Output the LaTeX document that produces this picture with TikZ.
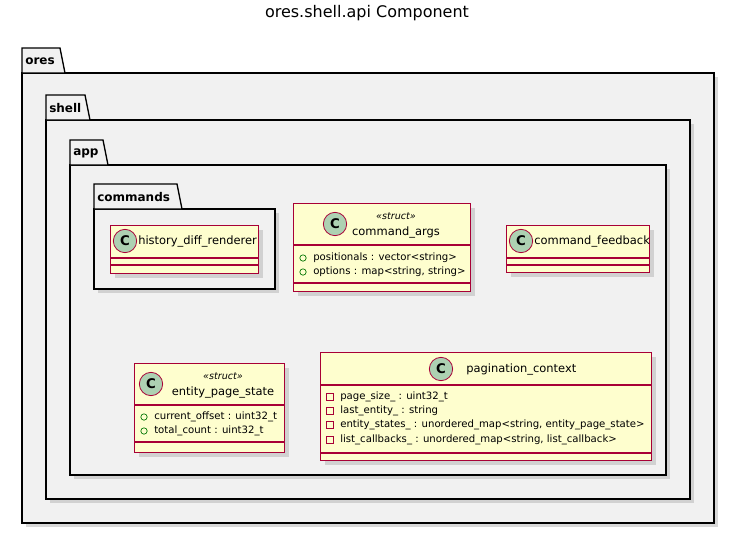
\documentclass[tikz,border=0pt]{standalone}
\usepackage{fontspec}
\setmainfont{DejaVu Sans}
\usetikzlibrary{shadows}
\definecolor{pkgfill}{HTML}{F1F1F1}
\definecolor{clsfill}{HTML}{FEFECE}
\definecolor{clsline}{HTML}{A80036}
\definecolor{cfill}{HTML}{ADD1B2}
\tikzset{
  pkg/.style={draw=black, fill=pkgfill, line width=1pt, drop shadow={shadow xshift=3pt,shadow yshift=-3pt,fill=gray!60}},
  pkgtab/.style={draw=black, fill=pkgfill, line width=1pt},
  cls/.style={draw=clsline, fill=clsfill, line width=0.9pt, inner sep=0pt, anchor=north west, drop shadow={shadow xshift=3pt,shadow yshift=-3pt,fill=gray!60}},
  sep/.style={draw=clsline, line width=0.9pt},
  cmark/.style={circle, draw=clsline, fill=cfill, line width=0.6pt, minimum size=17.5pt, inner sep=0pt, font=\bfseries\fontsize{10}{10}\selectfont},
  cname/.style={font=\fontsize{8.6}{10}\selectfont, inner sep=0pt},
  stereo/.style={font=\itshape\fontsize{7.2}{8}\selectfont, inner sep=0pt},
  mem/.style={font=\fontsize{7.6}{9}\selectfont, inner sep=0pt, anchor=west},
  pub/.style={circle, draw=green!45!black, line width=0.5pt, minimum size=4.8pt, inner sep=0pt},
  priv/.style={rectangle, draw=clsline, line width=0.5pt, minimum size=4.8pt, inner sep=0pt},
  plabel/.style={font=\bfseries\fontsize{9}{10}\selectfont, anchor=west, inner sep=0pt}
}
\begin{document}
\begin{tikzpicture}[x=0.75pt,y=-0.75pt]
\useasboundingbox (0,0) rectangle (735,535);
\fill[white] (0,0) rectangle (735,535);
\node[font=\fontsize{12}{14}\selectfont] (title) at (367,13) {ores.shell.api Component};
% packages
\newcommand\pkgdraw[7]{% name x1 y1 tabw x2 y2 label
  \draw[pkg] (#2,#3+25) rectangle (#5,#6);
  \draw[pkgtab] (#2,#3+25) -- (#2,#3) -- (#2+#4,#3) -- (#2+#4+5,#3+25) -- cycle;
  \node[plabel] (#1) at (#2+3,#3+13) {#7};}
\pkgdraw{ores}{22}{48}{38}{714}{523}{ores}
\pkgdraw{shell}{46}{95}{39}{690}{499}{shell}
\pkgdraw{app}{70}{140}{33}{666}{475}{app}
\pkgdraw{commands}{94}{184}{83}{275}{289}{commands}
% history_diff_renderer
\node[cls, minimum width=111pt, minimum height=36pt] (hdr) at (110,225) {};
\draw[sep] (110,258) -- (258,258) (110,265) -- (258,265);
\node[cmark] (hdrc) at (125,241) {C};
\node[cname, anchor=west] (hdrn) at (138,241) {history\_diff\_renderer};
% command_args
\node[cls, minimum width=132.75pt, minimum height=66pt] (ca) at (293,203) {};
\draw[sep] (293,245) -- (470,245) (293,283) -- (470,283);
\node[cmark] (cac) at (335,224) {C};
\node[stereo] (cas) at (396,216) {«struct»};
\node[cname] (can) at (396,232) {command\_args};
\node[pub] (cap1) at (303,258) {}; \node[mem] (cam1) at (313,258) {positionals : vector<string>};
\node[pub] (cap2) at (303,272) {}; \node[mem] (cam2) at (313,272) {options : map<string, string>};
% command_feedback
\node[cls, minimum width=107.25pt, minimum height=35.25pt] (cf) at (506,225) {};
\draw[sep] (506,258) -- (649,258) (506,265) -- (649,265);
\node[cmark] (cfc) at (521,241) {C};
\node[cname, anchor=west] (cfn) at (534,241) {command\_feedback};
% entity_page_state
\node[cls, minimum width=112.5pt, minimum height=66.75pt] (eps) at (134,363) {};
\draw[sep] (134,405) -- (284,405) (134,442) -- (284,442);
\node[cmark] (epsc) at (151,384) {C};
\node[stereo] (epss) at (223,376) {«struct»};
\node[cname] (epsn) at (223,392) {entity\_page\_state};
\node[pub] (epsp1) at (144,417) {}; \node[mem] (epsm1) at (154,417) {current\_offset : uint32\_t};
\node[pub] (epsp2) at (144,431) {}; \node[mem] (epsm2) at (154,431) {total\_count : uint32\_t};
% pagination_context
\node[cls, minimum width=248.25pt, minimum height=81pt] (pc) at (320,352) {};
\draw[sep] (320,385) -- (651,385) (320,453) -- (651,453);
\node[cmark] (pcc) at (441,369) {C};
\node[cname, anchor=west] (pcn) at (466,369) {pagination\_context};
\node[priv] (pcp1) at (330,397) {}; \node[mem] (pcm1) at (340,397) {page\_size\_ : uint32\_t};
\node[priv] (pcp2) at (330,411) {}; \node[mem] (pcm2) at (340,411) {last\_entity\_ : string};
\node[priv] (pcp3) at (330,425) {}; \node[mem] (pcm3) at (340,425) {entity\_states\_ : unordered\_map<string, entity\_page\_state>};
\node[priv] (pcp4) at (330,440) {}; \node[mem] (pcm4) at (340,440) {list\_callbacks\_ : unordered\_map<string, list\_callback>};
\end{tikzpicture}
\end{document}
